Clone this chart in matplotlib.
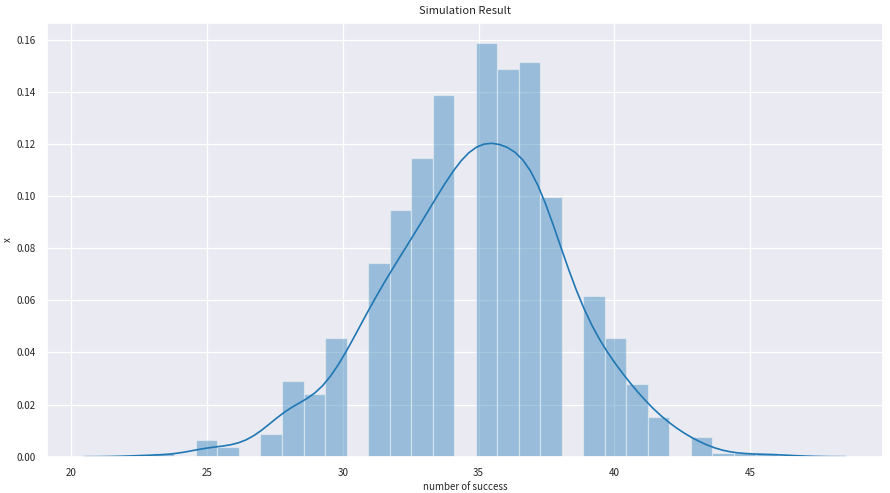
import matplotlib
matplotlib.use("Agg")
import matplotlib.pyplot as plt
import numpy as np
import seaborn as sns

# number of successes observed in 1000 simulation runs
values = [23, 24, 25, 26, 27, 28, 29, 30, 31, 32, 33, 34,
          35, 36, 37, 38, 39, 40, 41, 42, 43, 44, 45, 46]
counts = [1, 0, 5, 3, 7, 23, 19, 36, 59, 75, 91, 110,
          126, 118, 120, 79, 49, 36, 22, 12, 6, 1, 1, 1]

sns.set_theme(style="darkgrid", rc={'grid.linewidth': 0.9})
plt.rcParams['font.family'] = ['Noto Sans CJK KR', 'DejaVu Sans']

x = np.repeat(values, counts).astype(float)

fig = plt.figure(figsize=(8.9, 4.93), dpi=100)
ax = fig.add_axes([0.0528, 0.0736, 0.9392, 0.8804])

color = '#1f77b4'
ax.hist(x, bins=29, density=True, color=color, alpha=0.4, linewidth=0.9)

# gaussian kde, scott bandwidth, cut=3 (same as distplot)
bw = x.std(ddof=1) * len(x) ** (-1 / 5)
grid = np.linspace(x.min() - 3 * bw, x.max() + 3 * bw, 100)
dens = np.exp(-0.5 * ((grid[:, None] - x[None, :]) / bw) ** 2).sum(axis=1)
dens /= len(x) * bw * np.sqrt(2 * np.pi)
ax.plot(grid, dens, color=color, lw=1.2)

ax.set_xlim(19.1, 49.9)
ax.set_ylim(0, 0.1665)
ax.set_xticks([20, 25, 30, 35, 40, 45])
ax.set_yticks(np.arange(0, 0.161, 0.02))
ax.tick_params(labelsize=7, pad=2)
ax.set_title('Simulation Result', fontsize=8)
ax.set_xlabel('number of success', fontsize=7, labelpad=3)
ax.set_ylabel('x', fontsize=7, labelpad=3)

plt.savefig('out.png', dpi=100)
